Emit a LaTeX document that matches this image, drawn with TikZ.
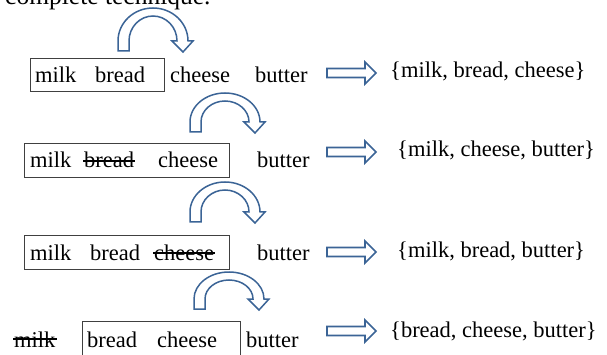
\documentclass[tikz,border=0pt]{standalone}
\usepackage{fontspec}
\setmainfont{Liberation Serif}
\definecolor{arrowblue}{HTML}{3B6496}
\definecolor{boxgray}{HTML}{404040}
\tikzset{
  word/.style={anchor=base west, inner sep=0pt, font=\fontsize{22.5}{27}\selectfont},
  itembox/.style={draw=boxgray, line width=0.9pt},
  strikeline/.style={line width=1.3pt, black},
  pics/curvearrow/.style={code={
    \draw[arrowblue, line width=1.5pt, fill=white, line join=miter]
      (-35,-10) -- (-35,0) arc[start angle=180,end angle=0,x radius=35pt,y radius=#1 pt]
      -- (40,0) -- (30,-11) -- (19,0) -- (24,0)
      arc[start angle=0,end angle=180,x radius=24pt,y radius=#1 pt - 8pt]
      -- (-24,-10) -- cycle;
  }},
  pics/blockarrow/.style={code={
    \draw[arrowblue, line width=1.6pt, fill=white, line join=miter]
      (0,4.5) -- (38,4.5) -- (38,11) -- (49,0) -- (38,-11) -- (38,-4.5) -- (0,-4.5) -- cycle;
  }}
}
\begin{document}
\begin{tikzpicture}[x=1pt,y=1pt]
\useasboundingbox (0,0) rectangle (607,-355);
\clip (0,0) rectangle (607,-355);

% cut-off heading
\node[word, font=\fontsize{25.5}{30}\selectfont] (head) at (5,-5) {complete technique.};

% row 1
\draw[itembox] (30,-58) rectangle (164,-91);
\node[word] (m1) at (35,-83) {milk};
\node[word] (b1) at (95,-83) {bread};
\node[word] (c1) at (170,-83) {cheese};
\node[word] (u1) at (255,-83) {butter};
\pic at (153,-41) {curvearrow=33};
\pic at (327,-73) {blockarrow};
\node[word] (r1) at (390,-78) {\{milk, bread, cheese\}};

% row 2
\draw[itembox] (24,-143) rectangle (229,-177);
\node[word] (m2) at (30,-168) {milk};
\node[word] (b2) at (84,-168) {bread};
\node[word] (c2) at (158,-168) {cheese};
\node[word] (u2) at (257,-168) {butter};
\draw[strikeline] ([xshift=-1pt,yshift=7pt]b2.base west) -- ([xshift=1pt,yshift=7pt]b2.base east);
\pic at (225,-122) {curvearrow=29};
\pic at (327,-152) {blockarrow};
\node[word] (r2) at (397,-157) {\{milk, cheese, butter\}};

% row 3
\draw[itembox] (24,-235) rectangle (229,-269);
\node[word] (m3) at (30,-260) {milk};
\node[word] (b3) at (90,-260) {bread};
\node[word] (c3) at (154,-260) {cheese};
\node[word] (u3) at (257,-260) {butter};
\draw[strikeline] ([xshift=-1pt,yshift=7pt]c3.base west) -- ([xshift=1pt,yshift=7pt]c3.base east);
\pic at (225,-212) {curvearrow=30};
\pic at (327,-252) {blockarrow};
\node[word] (r3) at (397,-257) {\{milk, bread, butter\}};

% row 4
\draw[itembox] (82,-321) rectangle (240,-360);
\node[word] (m4) at (14,-347) {milk};
\node[word] (b4) at (87,-347) {bread};
\node[word] (c4) at (157,-347) {cheese};
\node[word] (u4) at (246,-347) {butter};
\draw[strikeline] ([xshift=-1pt,yshift=8pt]m4.base west) -- ([xshift=1pt,yshift=8pt]m4.base east);
\pic at (229,-299) {curvearrow=27};
\pic at (327,-331) {blockarrow};
\node[word] (r4) at (390,-337) {\{bread, cheese, butter\}};
\end{tikzpicture}
\end{document}
